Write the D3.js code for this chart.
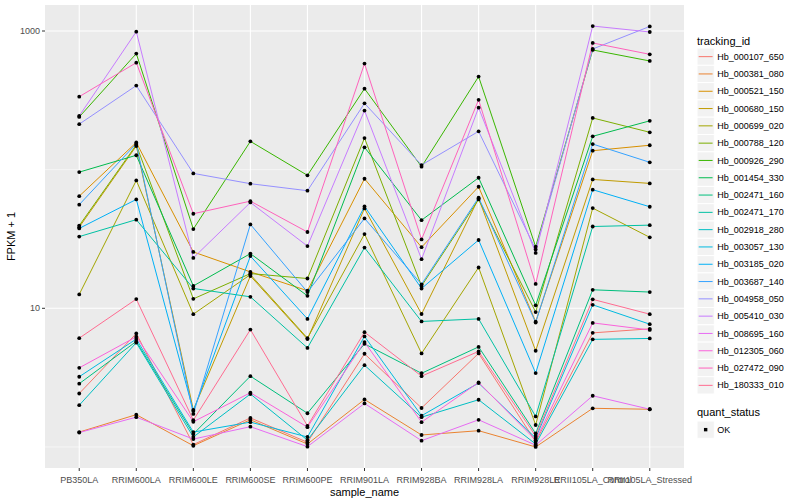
<!DOCTYPE html>
<html>
<head>
<meta charset="utf-8">
<script src="https://cdn.jsdelivr.net/npm/d3@7"></script>
<style>
  html, body { margin: 0; padding: 0; background: #fff; }
  svg { display: block; font-family: "Liberation Sans", Arial, sans-serif; }
</style>
</head>
<body>
<div id="chart"></div>
<script>
// ---- data (FPKM + 1) ----
const samples = ["PB350LA", "RRIM600LA", "RRIM600LE", "RRIM600SE", "RRIM600PE", "RRIM901LA",
  "RRIM928BA", "RRIM928LA", "RRIM928LE", "RRII105LA_Control", "RRII105LA_Stressed"];

const trackingIds = ["Hb_000107_650", "Hb_000381_080", "Hb_000521_150", "Hb_000680_150", "Hb_000699_020",
  "Hb_000788_120", "Hb_000926_290", "Hb_001454_330", "Hb_002471_160", "Hb_002471_170",
  "Hb_002918_280", "Hb_003057_130", "Hb_003185_020", "Hb_003687_140", "Hb_004958_050",
  "Hb_005410_030", "Hb_008695_160", "Hb_012305_060", "Hb_027472_090", "Hb_180333_010"];

const hb_000107_650 = [2.43, 6.58, 1.04, 1.62, 1.08, 4.70, 1.91, 4.73, 1.09, 6.65, 7.11];
const hb_000381_080 = [1.28, 1.71, 1.02, 1.57, 1.05, 2.20, 1.22, 1.31, 1.00, 1.90, 1.87];
const hb_000521_150 = [64.4, 157, 25.5, 18.3, 13.4, 86, 27.6, 75.3, 8.0, 137, 150];
const hb_000680_150 = [38.5, 148, 1.85, 17.1, 6.0, 52.5, 9.1, 62.1, 4.94, 85, 79.6];
const hb_000699_020 = [12.6, 83.6, 9.07, 17.5, 6.09, 34.3, 4.73, 19.7, 1.44, 52.8, 32.5];
const hb_000788_120 = [39.5, 151, 11.7, 17.8, 16.4, 169, 14.5, 61, 9.4, 236, 186];
const hb_000926_290 = [240, 687, 37.3, 160, 91, 384, 105, 469, 27.8, 730, 608];
const hb_001454_330 = [96, 127, 14.5, 24.8, 12.3, 145, 43.2, 87.4, 10.5, 174, 225];
const hb_002471_160 = [2.86, 5.77, 1.24, 3.24, 1.75, 5.54, 3.40, 5.27, 1.25, 13.6, 13.1];
const hb_002471_170 = [32.9, 43.6, 13.9, 12.1, 5.18, 27.4, 8.04, 8.39, 1.66, 38.9, 39.8];
const hb_002918_280 = [2.00, 5.65, 1.18, 2.41, 1.12, 3.89, 1.64, 2.19, 1.05, 5.97, 6.06];
const hb_003057_130 = [3.21, 6.0, 1.28, 1.51, 1.18, 6.27, 1.68, 2.89, 1.16, 10.6, 7.68];
const hb_003185_020 = [37.7, 61, 1.82, 23.8, 8.39, 54.3, 13.9, 31.1, 3.41, 71.7, 54];
const hb_003687_140 = [55.9, 154, 1.73, 40.3, 13.1, 44.5, 14.9, 62.8, 7.9, 153, 113];
const hb_004958_050 = [213, 404, 94, 79.2, 70.5, 301, 108, 189, 26.6, 742, 1079];
const hb_005410_030 = [244, 989, 23.1, 58, 28.1, 267, 22.6, 280, 25.1, 1086, 984];
const hb_008695_160 = [1.27, 1.64, 1.14, 1.40, 1.005, 2.06, 1.11, 1.57, 1.03, 2.34, 1.87];
const hb_012305_060 = [3.72, 6.24, 1.52, 2.46, 1.39, 5.71, 1.51, 2.92, 1.12, 7.85, 6.98];
const hb_027472_090 = [336, 591, 48.1, 59.3, 35.5, 582, 31.4, 319, 15.0, 820, 679];
const hb_180333_010 = [6.09, 11.65, 1.56, 7.02, 1.42, 6.73, 3.24, 4.89, 1.20, 11.6, 9.07];

const seriesValues = [hb_000107_650, hb_000381_080, hb_000521_150, hb_000680_150, hb_000699_020,
  hb_000788_120, hb_000926_290, hb_001454_330, hb_002471_160, hb_002471_170,
  hb_002918_280, hb_003057_130, hb_003185_020, hb_003687_140, hb_004958_050,
  hb_005410_030, hb_008695_160, hb_012305_060, hb_027472_090, hb_180333_010];

const yTicks = [10, 1000];
const yMinor = [1, 100];

// ggplot2 default hue palette for 20 levels
const palette = ["#F8766D", "#EA8331", "#D89000", "#C09B00", "#A3A500", "#7CAE00", "#39B600", "#00BB4E",
  "#00BF7D", "#00C1A3", "#00BFC4", "#00BAE0", "#00B0F6", "#35A2FF", "#9590FF", "#C77CFF",
  "#E76BF3", "#FA62DB", "#FF62BC", "#FF6C91"];

// ---- layout ----
const width = 800, height = 500;
const panel = { left: 45, right: 684, top: 5, bottom: 468 };
const font = "'Liberation Sans', Arial, sans-serif";

const svg = d3.select("#chart").append("svg")
  .attr("width", width)
  .attr("height", height);

const x = d3.scalePoint()
  .domain(samples)
  .range([panel.left, panel.right])
  .padding(0.6);

// log scale with ggplot-like 5% expansion on the log range
const allVals = seriesValues.flat();
const lo = Math.log10(d3.min(allVals)), hi = Math.log10(d3.max(allVals));
const pad = (hi - lo) * 0.05;
const y = d3.scaleLog()
  .domain([Math.pow(10, lo - pad), Math.pow(10, hi + pad)])
  .range([panel.bottom, panel.top]);

const color = d3.scaleOrdinal().domain(trackingIds).range(palette);

// panel background
svg.append("rect")
  .attr("x", panel.left).attr("y", panel.top)
  .attr("width", panel.right - panel.left)
  .attr("height", panel.bottom - panel.top)
  .attr("fill", "#EBEBEB");

// grid
const grid = svg.append("g");
grid.selectAll("line.minor").data(yMinor).join("line")
  .attr("x1", panel.left).attr("x2", panel.right)
  .attr("y1", d => y(d)).attr("y2", d => y(d))
  .attr("stroke", "#fff").attr("stroke-width", 0.55);
grid.selectAll("line.majy").data(yTicks).join("line")
  .attr("x1", panel.left).attr("x2", panel.right)
  .attr("y1", d => y(d)).attr("y2", d => y(d))
  .attr("stroke", "#fff").attr("stroke-width", 1.1);
grid.selectAll("line.majx").data(samples).join("line")
  .attr("y1", panel.top).attr("y2", panel.bottom)
  .attr("x1", d => x(d)).attr("x2", d => x(d))
  .attr("stroke", "#fff").attr("stroke-width", 1.1);

// lines
const line = d3.line()
  .x((d, i) => x(samples[i]))
  .y(d => y(d));

svg.append("g").selectAll("path")
  .data(seriesValues)
  .join("path")
  .attr("d", line)
  .attr("fill", "none")
  .attr("stroke", (d, i) => color(trackingIds[i]))
  .attr("stroke-width", 1);

// points
svg.append("g").selectAll("g")
  .data(seriesValues)
  .join("g")
  .selectAll("circle")
  .data(d => d)
  .join("circle")
  .attr("cx", (d, i) => x(samples[i]))
  .attr("cy", d => y(d))
  .attr("r", 1.9)
  .attr("fill", "#000");

// axes
const yAxis = svg.append("g");
yTicks.forEach(t => {
  yAxis.append("line")
    .attr("x1", panel.left - 3).attr("x2", panel.left)
    .attr("y1", y(t)).attr("y2", y(t))
    .attr("stroke", "#333").attr("stroke-width", 1);
  yAxis.append("text")
    .attr("x", panel.left - 5).attr("y", y(t))
    .attr("dy", "0.35em")
    .attr("text-anchor", "end")
    .attr("font-size", 9).attr("fill", "#4D4D4D")
    .text(t);
});

const xAxis = svg.append("g");
samples.forEach(s => {
  xAxis.append("line")
    .attr("x1", x(s)).attr("x2", x(s))
    .attr("y1", panel.bottom).attr("y2", panel.bottom + 3)
    .attr("stroke", "#333").attr("stroke-width", 1);
  xAxis.append("text")
    .attr("x", x(s)).attr("y", panel.bottom + 15)
    .attr("text-anchor", "middle")
    .attr("font-size", 9).attr("fill", "#4D4D4D")
    .text(s);
});

svg.append("text")
  .attr("x", (panel.left + panel.right) / 2).attr("y", 496)
  .attr("text-anchor", "middle")
  .attr("font-size", 11).attr("fill", "#000")
  .text("sample_name");

svg.append("text")
  .attr("transform", `translate(15,${(panel.top + panel.bottom) / 2}) rotate(-90)`)
  .attr("text-anchor", "middle")
  .attr("font-size", 11).attr("fill", "#000")
  .text("FPKM + 1");

// ---- legends ----
const lg = svg.append("g").attr("transform", "translate(697,0)");
const keySize = 17.3;

lg.append("text")
  .attr("x", 0).attr("y", 44.5)
  .attr("font-size", 11).attr("fill", "#000")
  .text("tracking_id");

const items = lg.selectAll("g.item")
  .data(trackingIds)
  .join("g")
  .attr("transform", (d, i) => `translate(0,${48 + i * keySize})`);

items.append("rect")
  .attr("width", keySize).attr("height", keySize)
  .attr("fill", "#F2F2F2").attr("stroke", "#fff").attr("stroke-width", 1);
items.append("line")
  .attr("x1", 1.7).attr("x2", keySize - 1.7)
  .attr("y1", keySize / 2).attr("y2", keySize / 2)
  .attr("stroke", d => color(d)).attr("stroke-width", 1);
items.append("text")
  .attr("x", keySize + 3).attr("y", keySize / 2)
  .attr("dy", "0.35em")
  .attr("font-size", 9).attr("fill", "#000")
  .text(d => d);

lg.append("text")
  .attr("x", 0).attr("y", 416)
  .attr("font-size", 11).attr("fill", "#000")
  .text("quant_status");

const ok = lg.append("g").attr("transform", "translate(0,421)");
ok.append("rect")
  .attr("width", keySize).attr("height", keySize)
  .attr("fill", "#F2F2F2").attr("stroke", "#fff").attr("stroke-width", 1);
ok.append("rect")
  .attr("x", keySize / 2 - 1.7).attr("y", keySize / 2 - 1.7)
  .attr("width", 3.4).attr("height", 3.4)
  .attr("fill", "#000");
ok.append("text")
  .attr("x", keySize + 3).attr("y", keySize / 2)
  .attr("dy", "0.35em")
  .attr("font-size", 9).attr("fill", "#000")
  .text("OK");
</script>
</body>
</html>
